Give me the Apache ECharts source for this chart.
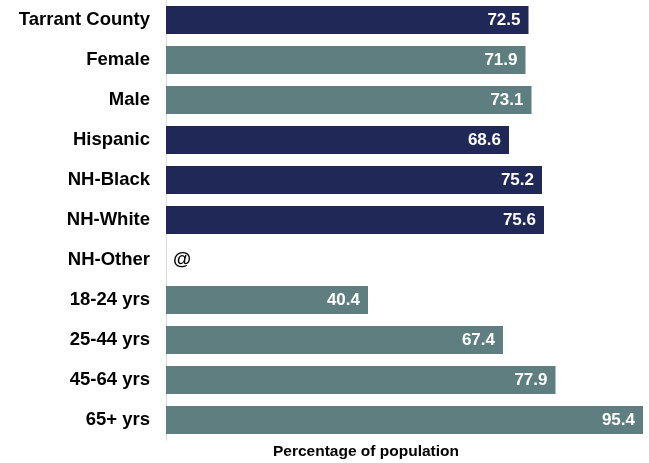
<!DOCTYPE html>
<html>
<head>
<meta charset="utf-8">
<script src="https://cdn.jsdelivr.net/npm/echarts@6/dist/echarts.min.js"></script>
<style>
  html, body { margin: 0; padding: 0; background: #ffffff; }
  #chart { width: 649px; height: 463px; }
</style>
</head>
<body>
<div id="chart"></div>
<script>
// Share of population by group, top to bottom
const categories = ['Tarrant County', 'Female', 'Male', 'Hispanic', 'NH-Black', 'NH-White',
  'NH-Other', '18-24 yrs', '25-44 yrs', '45-64 yrs', '65+ yrs'];
const values = [72.5, 71.9, 73.1, 68.6, 75.2, 75.6, null, 40.4, 67.4, 77.9, 95.4];
const groups = ['total', 'sex', 'sex', 'race', 'race', 'race', 'race', 'age', 'age', 'age', 'age'];
const suppressedMark = '@';
const axisTitle = 'Percentage of population';

const groupColors = { total: '#1f2856', race: '#1f2856', sex: '#5f7e80', age: '#5f7e80' };
const FONT = '"Liberation Sans", Arial, sans-serif';

const chart = echarts.init(document.getElementById('chart'), null, { renderer: 'canvas' });

const barData = values.map((v, i) => {
  if (v === null) {
    // Suppressed estimate: no bar, just the marker at the axis
    return {
      value: 0,
      itemStyle: { color: 'transparent' },
      label: {
        show: true, position: 'right', distance: 7,
        formatter: suppressedMark, color: '#000000', fontSize: 18.5
      }
    };
  }
  return { value: v, itemStyle: { color: groupColors[groups[i]] } };
});

chart.setOption({
  animation: false,
  grid: { left: 166, right: 3, top: 0, height: 440, containLabel: false },
  xAxis: {
    type: 'value', min: 0, max: 96,
    axisLine: { show: false }, axisTick: { show: false },
    axisLabel: { show: false }, splitLine: { show: false }
  },
  yAxis: {
    type: 'category', inverse: true, data: categories,
    axisLine: { show: true, lineStyle: { color: '#d9d9d9', width: 1 } },
    axisTick: { show: false },
    axisLabel: {
      margin: 16, color: '#000000', fontFamily: FONT, fontWeight: 'bold', fontSize: 18.5
    }
  },
  series: [{
    type: 'bar',
    data: barData,
    barCategoryGap: '30%',
    label: {
      show: true, position: 'insideRight', distance: 8,
      color: '#ffffff', fontFamily: FONT, fontWeight: 'bold', fontSize: 17,
      formatter: p => p.value.toFixed(1)
    }
  }],
  graphic: [{
    type: 'text', x: 366, y: 452,
    style: {
      text: axisTitle, align: 'center', verticalAlign: 'middle',
      fill: '#000000', font: 'bold 15.5px ' + FONT
    }
  }]
});
</script>
</body>
</html>
